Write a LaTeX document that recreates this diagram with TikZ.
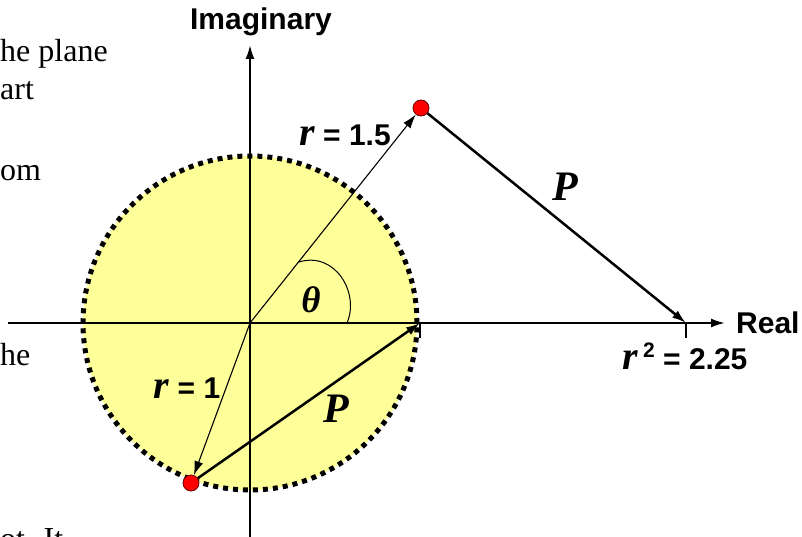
\documentclass[tikz,border=0pt]{standalone}
\usepackage{fontspec}
\setmainfont{Liberation Serif}
\setsansfont{Liberation Sans}
\usetikzlibrary{arrows.meta}
\definecolor{discyellow}{RGB}{255,255,153}
\definecolor{dotred}{RGB}{255,0,0}
\newcommand{\rvar}{{\rmfamily\bfseries\itshape\fontsize{40}{40}\selectfont r}}
\tikzset{
	axislabel/.style={font=\sffamily\bfseries\fontsize{30}{32}\selectfont, inner sep=0pt},
	vlabel/.style={font=\rmfamily\bfseries\itshape\fontsize{42}{44}\selectfont, inner sep=0pt},
	pointdot/.style={circle, draw=black!60!red, fill=dotred, line width=0.8pt, minimum size=16pt, inner sep=0pt},
	slidetext/.style={font=\fontsize{32}{36}\selectfont, anchor=base west, inner sep=0pt}
}
\begin{document}
\begin{tikzpicture}[x=1pt, y=1pt, >={Latex[length=14pt,width=9pt]}]
	\useasboundingbox (-250,-213) rectangle (552,323);
	% text of the slide, cut at the left edge
	\node [slidetext] (s1) at (-250,261) {he plane};
	\node [slidetext] (s2) at (-250,223) {art};
	\node [slidetext] (s3) at (-250,143) {om};
	\node [slidetext] (s4) at (-250,-42) {he};
	\node [slidetext] (s5) at (-250,-226) {ot. It};
	% unit disc
	\fill [discyellow] (0,0) circle (167);
	\coordinate (O) at (0,0);
	\coordinate (one) at (170,0);
	\coordinate (rsq) at (436,0);
	\coordinate (xend) at (475,0);
	\coordinate (yend) at (0,278);
	\draw [->, line width=2pt] (-242,0) -- (xend);
	\draw [->, line width=2pt] (0,-215) -- (yend);
	\draw [line width=5pt, dash pattern=on 5pt off 5pt] (O) circle (167);
	\draw [line width=1.5pt] (one) -- ++(0,-15) (rsq) -- ++(0,-15);
	% angle
	\draw [line width=1pt] (49,61) .. controls (85,72) and (110,30) .. (97,0);
	% points
	\node [pointdot] (zdot) at (171,215) {};
	\node [pointdot] (wdot) at (-59,-160) {};
	\draw [->, line width=1.1pt] (O) -- (zdot);
	\draw [->, line width=1.1pt] (O) -- (wdot);
	\draw [->, line width=2.5pt] (zdot) -- (rsq);
	\draw [->, line width=2.5pt] (wdot) -- (one);
	% labels
	\node [axislabel] (imag) at (11,301) {Imaginary};
	\node [axislabel, anchor=west] (real) at (486,0) {Real};
	\node [axislabel] (rbig) at (95,188) {\rvar\ = 1.5};
	\node [axislabel] (rone) at (-63,-65) {\rvar\ = 1};
	\node [axislabel] (rsqlabel) at (435,-33) {\rvar\,\raisebox{12pt}{\fontsize{21}{21}\selectfont 2} = 2.25};
	\node [vlabel, font=\rmfamily\bfseries\itshape\fontsize{37}{37}\selectfont] (theta) at (61,23) {θ};
	\node [vlabel] (pup) at (315,136) {P};
	\node [vlabel] (plow) at (86,-86) {P};
\end{tikzpicture}
\end{document}
